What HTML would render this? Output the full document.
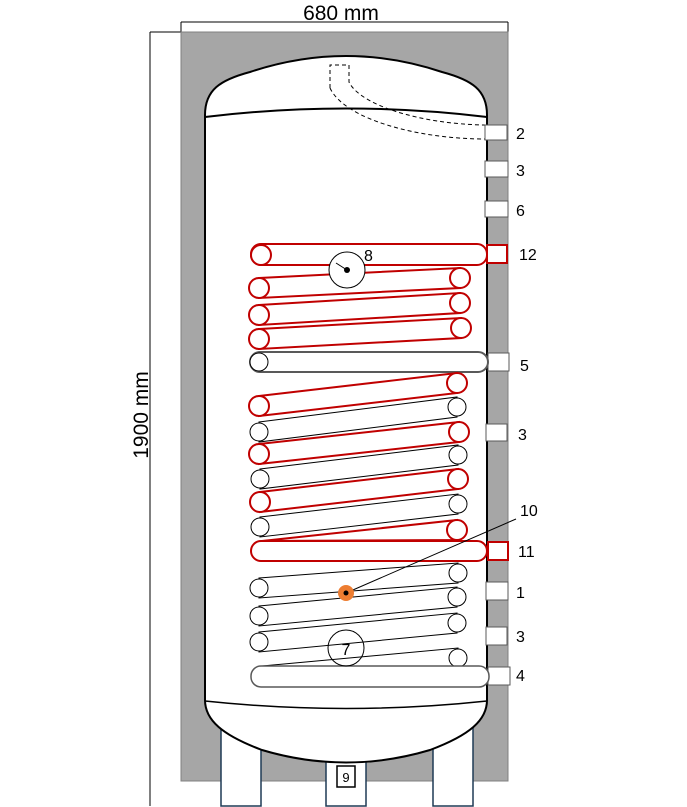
<!DOCTYPE html>
<html><head><meta charset="utf-8"><style>
html,body{margin:0;padding:0;background:#fff;}
svg{display:block;font-family:"Liberation Sans",sans-serif;}
</style></head><body>
<svg width="687" height="807" viewBox="0 0 687 807" xmlns="http://www.w3.org/2000/svg">
<!-- dimensions -->
<line x1="181" y1="22" x2="508" y2="22" stroke="#000" stroke-width="1"/>
<line x1="181" y1="22" x2="181" y2="32" stroke="#000"/>
<line x1="508" y1="22" x2="508" y2="32" stroke="#000"/>
<text x="341" y="20" font-size="21" text-anchor="middle">680 mm</text>
<line x1="150" y1="32" x2="150" y2="806" stroke="#000"/>
<line x1="150" y1="32" x2="181" y2="32" stroke="#000"/>
<text x="0" y="0" font-size="21" text-anchor="middle" transform="translate(148,415) rotate(-90)">1900 mm</text>
<!-- insulation -->
<rect x="181" y="32" width="327" height="749" fill="#a6a6a6" stroke="#808080"/>
<!-- legs -->
<g fill="#fff" stroke="#1f3a55" stroke-width="1.5">
<rect x="221" y="725" width="40" height="81"/>
<rect x="326" y="725" width="40" height="81"/>
<rect x="433" y="725" width="40" height="81"/>
</g>
<!-- tank -->
<path d="M205,115 C205,90 220,80 250,72 Q346,40 442,72 C472,80 487,90 487,115 L487,700 C487,720 470,735 430,750 Q346,775 262,750 C222,735 205,720 205,700 Z" fill="#fff" stroke="#000" stroke-width="2"/>
<path d="M205,117 Q346,100 487,117" fill="none" stroke="#000" stroke-width="2"/>
<path d="M205,701 Q346,716 487,701" fill="none" stroke="#000" stroke-width="1.5"/>
<rect x="337" y="766" width="18" height="21" fill="#fff" stroke="#000" stroke-width="1.5"/>
<text x="346" y="782" font-size="13" text-anchor="middle">9</text>
<!-- dashed pipe -->
<g fill="none" stroke="#000" stroke-width="1" stroke-dasharray="4,3">
<path d="M330,88 L330,65 L349,65 L349,82 C360,105 420,124 485,125"/>
<path d="M330,88 C345,120 420,139 485,139"/>
</g>
<!-- ports -->
<g fill="#fff" stroke="#595959" stroke-width="1">
<rect x="485" y="125" width="22" height="15"/>
<rect x="485" y="161" width="23" height="16"/>
<rect x="485" y="201" width="23" height="16"/>
<rect x="488" y="353" width="21" height="18"/>
<rect x="486" y="424" width="21" height="17"/>
<rect x="486" y="582" width="22" height="18"/>
<rect x="486" y="627" width="21" height="18"/>
<rect x="488" y="667" width="22" height="18"/>
</g>
<g fill="#fff" stroke="#c00000" stroke-width="2">
<rect x="487" y="245" width="20" height="18"/>
<rect x="488" y="542" width="20" height="18"/>
</g>
<g font-size="16">
<text x="516" y="139">2</text>
<text x="516" y="176">3</text>
<text x="516" y="216">6</text>
<text x="519" y="260">12</text>
<text x="520" y="371">5</text>
<text x="518" y="440">3</text>
<text x="518" y="557">11</text>
<text x="516" y="598">1</text>
<text x="516" y="642">3</text>
<text x="516" y="681">4</text>
<text x="520" y="516">10</text>
</g>
<!-- red top coils -->
<g fill="#fff" stroke="#c00000" stroke-width="2">
<rect x="251" y="244" width="236" height="21" rx="10"/>
<circle cx="261" cy="255" r="10"/>
<path d="M259,278 L460,268 L460,288 L259,298 Z"/><circle cx="460" cy="278" r="10"/><circle cx="259" cy="288" r="10"/>
<path d="M259,305 L460,293 L460,313 L259,325 Z"/><circle cx="460" cy="303" r="10"/><circle cx="259" cy="315" r="10"/>
<path d="M259,329 L461,318 L461,338 L259,349 Z"/><circle cx="461" cy="328" r="10"/><circle cx="259" cy="339" r="10"/>
</g>
<!-- gauge 8 -->
<circle cx="347" cy="270" r="18" fill="#fff" stroke="#000" stroke-width="1"/>
<line x1="347" y1="270" x2="336" y2="263" stroke="#000"/>
<circle cx="347" cy="270" r="3" fill="#000"/>
<text x="364" y="261" font-size="16">8</text>
<!-- tube 5 -->
<rect x="250" y="352" width="238" height="20" rx="10" fill="#fff" stroke="#595959" stroke-width="2"/>
<circle cx="259" cy="362" r="9" fill="#fff" stroke="#000" stroke-width="1"/>
<!-- middle coils -->
<g fill="#fff" stroke-width="1">
<g stroke="#000"><path d="M259,422 L457,397 L457,417 L259,442 Z"/><circle cx="457" cy="407" r="9"/><circle cx="259" cy="432" r="9"/></g>
<g stroke="#c00000" stroke-width="2"><path d="M259,396 L457,373 L457,393 L259,416 Z"/><circle cx="457" cy="383" r="10"/><circle cx="259" cy="406" r="10"/></g>
<g stroke="#000"><path d="M260,469 L458,445 L458,465 L260,489 Z"/><circle cx="458" cy="455" r="9"/><circle cx="260" cy="479" r="9"/></g>
<g stroke="#c00000" stroke-width="2"><path d="M259,444 L459,422 L459,442 L259,464 Z"/><circle cx="459" cy="432" r="10"/><circle cx="259" cy="454" r="10"/></g>
<g stroke="#000"><path d="M260,517 L458,494 L458,514 L260,537 Z"/><circle cx="458" cy="504" r="9"/><circle cx="260" cy="527" r="9"/></g>
<g stroke="#c00000" stroke-width="2"><path d="M260,492 L458,469 L458,489 L260,512 Z"/><circle cx="458" cy="479" r="10"/><circle cx="260" cy="502" r="10"/></g>
<g stroke="#c00000" stroke-width="2"><path d="M262,541 L457,520 L457,540 Z"/><circle cx="457" cy="530" r="10"/></g>
</g>
<rect x="251" y="541" width="236" height="20" rx="10" fill="#fff" stroke="#c00000" stroke-width="2"/>
<!-- lower coils -->
<g fill="#fff" stroke="#000" stroke-width="1">
<path d="M259,578 L458,563 L458,583 L259,598 Z"/><circle cx="458" cy="573" r="9"/><circle cx="259" cy="588" r="9"/>
<path d="M259,606 L457,587 L457,607 L259,626 Z"/><circle cx="457" cy="597" r="9"/><circle cx="259" cy="616" r="9"/>
<path d="M259,632 L457,613 L457,633 L259,652 Z"/><circle cx="457" cy="623" r="9"/><circle cx="259" cy="642" r="9"/>
<path d="M262,666 L458,648 L458,668 Z"/><circle cx="458" cy="658" r="9"/>
</g>
<rect x="251" y="666" width="238" height="21" rx="10" fill="#fff" stroke="#595959" stroke-width="1.5"/>
<!-- 7 -->
<circle cx="346" cy="648" r="18" fill="none" stroke="#000" stroke-width="1"/>
<text x="346" y="655" font-size="16" text-anchor="middle">7</text>
<!-- 10 -->
<line x1="346" y1="593" x2="516" y2="519" stroke="#000" stroke-width="1"/>
<circle cx="346" cy="593" r="8" fill="#ed7d31"/>
<circle cx="346" cy="593" r="2.5" fill="#000"/>
</svg>
</body></html>
